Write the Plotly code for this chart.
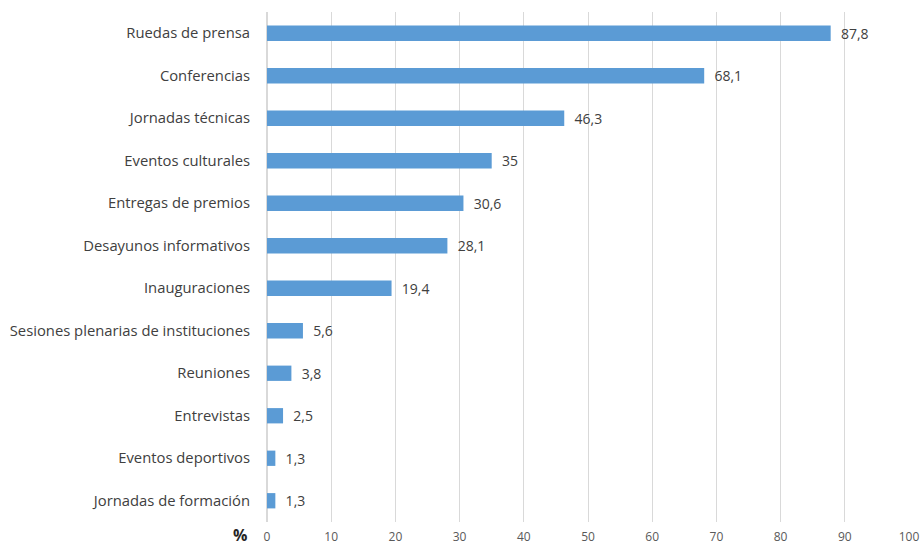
import plotly.graph_objects as go

categories = ["Ruedas de prensa", "Conferencias", "Jornadas técnicas", "Eventos culturales",
              "Entregas de premios", "Desayunos informativos", "Inauguraciones",
              "Sesiones plenarias de instituciones", "Reuniones", "Entrevistas",
              "Eventos deportivos", "Jornadas de formación"]
values = [87.8, 68.1, 46.3, 35, 30.6, 28.1, 19.4, 5.6, 3.8, 2.5, 1.3, 1.3]
tick_vals = [0, 10, 20, 30, 40, 50, 60, 70, 80, 90, 100]

fig = go.Figure(go.Bar(
    x=values, y=categories, orientation="h",
    marker=dict(color="#5B9BD5", line=dict(width=0)),
    width=0.36,
    text=["  " + str(v).replace(".", ",") for v in values],
    textposition="outside",
    constraintext="none",
    textfont=dict(family="Open Sans, DejaVu Sans", size=14, color="#404040"),
    cliponaxis=False,
))

fig.update_layout(
    width=922, height=546,
    margin=dict(l=267, r=13, t=12, b=24, autoexpand=False),
    paper_bgcolor="white", plot_bgcolor="white",
    showlegend=False,
    separators=",.",
    font=dict(family="Open Sans, DejaVu Sans", color="#595959"),
    xaxis=dict(range=[0, 100], tickvals=tick_vals, showgrid=True, gridcolor="#D9D9D9",
               gridwidth=1, zeroline=True, zerolinecolor="#D9D9D9", showline=False,
               tickfont=dict(size=12, color="#595959"), ticks="", automargin=False,
               ticklabelstandoff=6),
    yaxis=dict(categoryorder="array", categoryarray=categories[::-1],
               showline=False, ticks="", automargin=False,
               tickfont=dict(size=14.8, color="#404040"), ticklabelstandoff=16),
    annotations=[dict(text="<b>%</b>", xref="paper", yref="paper", x=0, y=0,
                      xanchor="right", yanchor="middle", xshift=-18, yshift=-13,
                      showarrow=False, font=dict(size=16, color="#262626"))],
)

fig.write_html("out.html", config={"displayModeBar": False},
               post_script="document.body.style.margin='0';document.body.style.padding='0';window.dispatchEvent(new Event('resize'));")
